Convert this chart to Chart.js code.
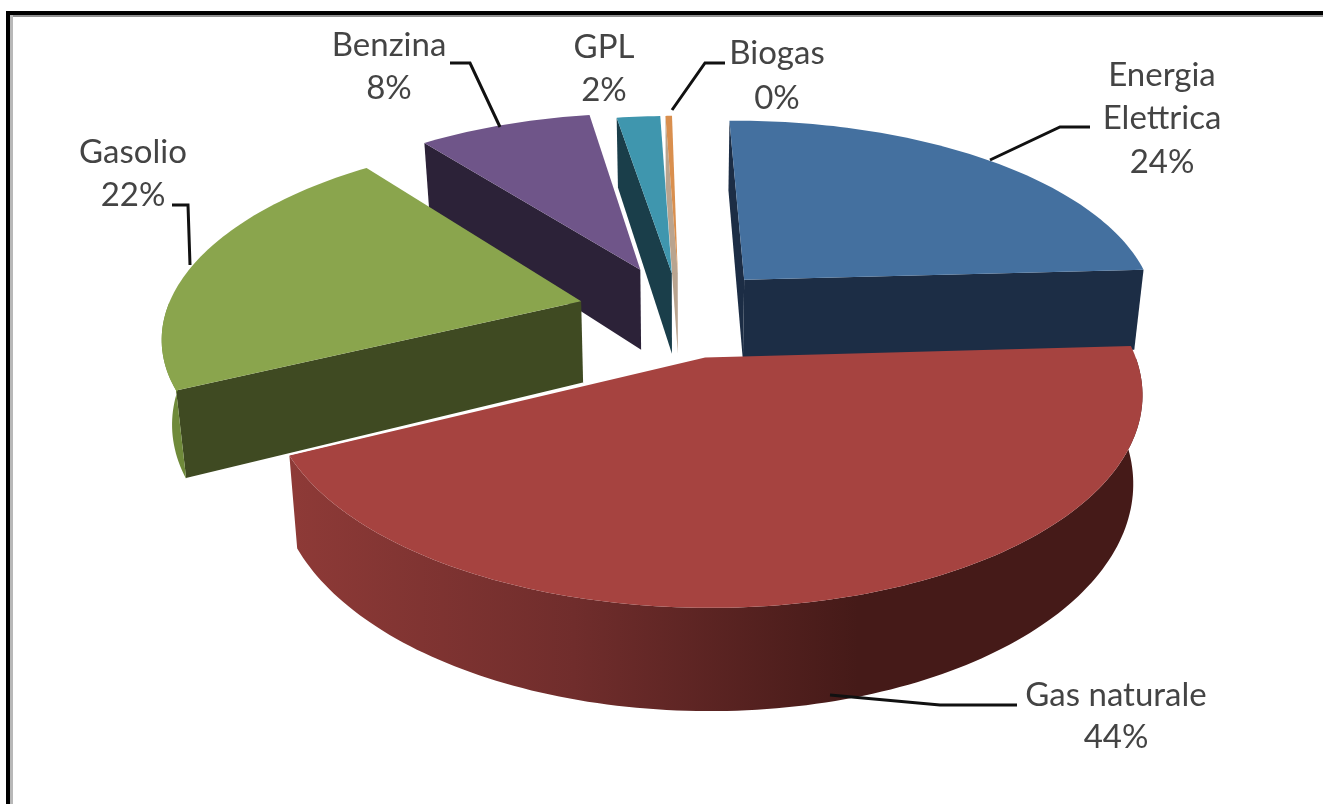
<!DOCTYPE html>
<html lang="it">
<head>
<meta charset="utf-8">
<title>Consumi per fonte</title>
<script src="https://cdn.jsdelivr.net/npm/chart.js@4"></script>
<style>
    html, body { margin: 0; background: #fff; overflow: hidden; }
    #wrap { position: relative; width: 1323px; height: 804px; overflow: hidden; }
    #frame { position: absolute; left: 6px; top: 11px; width: 1500px; height: 1000px;
             border: 4px solid #000; box-shadow: inset 3px 0 0 #b8b8b8, inset 0 2px 0 #909090; }
    canvas { position: absolute; left: 0; top: 0; }
</style>
</head>
<body>
<div id="wrap">
    <div id="frame"></div>
    <canvas id="pie" width="1323" height="804"></canvas>
</div>
<script>
// --- Data ---
const categories = ['Energia Elettrica', 'Gas naturale', 'Gasolio', 'Benzina', 'GPL', 'Biogas'];
const shares = [24.4, 43.7, 21.6, 8.0, 2.0, 0.3];

// --- Styles ---
const explode = [70, 70, 74, 74, 62, 62];
const topColors = ['#44709f', '#a64340', '#8aa54d', '#6f5589', '#3f96ae', '#d98f4e'];
const cutColors = ['#1c2d45', '#451a18', '#3f4a22', '#2c2238', '#1a3e4a', '#b9a48f'];
const wallColors = [
    ['#2c4a70', '#2c4a70'],
    ['#8e3a37', '#702d2c', '#451a18', '#451a18'],
    ['#6f8a3a', '#6f8a3a'],
    ['#2c2238', '#2c2238'],
    ['#1a3e4a', '#1a3e4a'],
    ['#b9a48f', '#b9a48f']
];
const paintOrder = [0, 5, 4, 3, 1, 2];

// label text is split on lines; anchors are [centre x, line y's...]
const labelLines = [['Energia', 'Elettrica'], ['Gas naturale'], ['Gasolio'], ['Benzina'], ['GPL'], ['Biogas']];
const labelAnchors = [
    [1162, 75, 118, 162],
    [1116, 695, 737],
    [133, 152, 195],
    [389, 45, 88],
    [604, 47, 90],
    [777, 53, 98]
];
const leaders = [
    [[1090, 127], [1060, 127], [990, 160]],
    [[1017, 705], [940, 705], [830, 695]],
    [[172, 205], [188, 205], [190, 265]],
    [[450, 63], [470, 63], [500, 127]],
    [],
    [[725, 63], [705, 63], [672, 110]]
];

// --- Perspective view of the pie plane ---
const view = { cx: 680, cy: 312, rx: 415, ry: 194, depth: 83, persp: 0.16, taper: 0.02, offsetUnit: 300 };

function project(u, v, z) {
    const s = 1 / (1 - view.persp * v);
    return {
        x: view.cx + view.rx * u * s * (1 - view.taper * z),
        y: view.cy + view.ry * v * s + view.depth * z * s
    };
}

function tracePath(ctx, pts) {
    ctx.beginPath();
    pts.forEach((p, i) => (i ? ctx.lineTo(p.x, p.y) : ctx.moveTo(p.x, p.y)));
    ctx.closePath();
}

function sliceGeometry(el) {
    const mid = (el.startAngle + el.endAngle) / 2;
    const off = el.options.offset / view.offsetUnit;
    const ou = Math.cos(mid) * off;
    const ov = Math.sin(mid) * off;
    const steps = Math.max(4, Math.ceil((el.endAngle - el.startAngle) / 0.02));
    const rim = [];
    for (let i = 0; i <= steps; i++) {
        const a = el.startAngle + (el.endAngle - el.startAngle) * i / steps;
        rim.push({ u: ou + Math.cos(a), v: ov + Math.sin(a), facing: Math.sin(a) > 0 });
    }
    return { apex: [ou, ov], rim };
}

function drawSlice(ctx, el, i) {
    const { apex, rim } = sliceGeometry(el);
    const topRim = rim.map(p => project(p.u, p.v, 0));
    const lowRim = rim.map(p => project(p.u, p.v, 1));
    const apexTop = project(apex[0], apex[1], 0);
    const apexLow = project(apex[0], apex[1], 1);
    const last = rim.length - 1;

    // cut faces, only those turned towards the viewer
    ctx.fillStyle = cutColors[i];
    if (-Math.cos(el.startAngle) > 0) {
        tracePath(ctx, [apexTop, topRim[0], lowRim[0], apexLow]);
        ctx.fill();
    }
    if (Math.cos(el.endAngle) > 0) {
        tracePath(ctx, [apexTop, topRim[last], lowRim[last], apexLow]);
        ctx.fill();
    }

    // outer wall, front part of the rim only
    const xs = topRim.map(p => p.x);
    const grad = ctx.createLinearGradient(Math.min(...xs), 0, Math.max(...xs), 0);
    wallColors[i].forEach((c, k) => grad.addColorStop(k / (wallColors[i].length - 1), c));
    const front = rim.map((p, k) => (p.facing ? k : -1)).filter(k => k >= 0);
    if (front.length > 1) {
        const upper = front.map(k => topRim[k]);
        const lower = front.map(k => lowRim[k]).reverse();
        tracePath(ctx, upper.concat(lower));
        ctx.fillStyle = grad;
        ctx.fill();
    }

    // top face
    tracePath(ctx, [apexTop].concat(topRim));
    ctx.fillStyle = topColors[i];
    ctx.fill();

    // thin light seam where the slice sits in front of its neighbour
    if (i === 2) {
        ctx.beginPath();
        ctx.moveTo(lowRim[0].x, lowRim[0].y);
        ctx.lineTo(apexLow.x, apexLow.y);
        ctx.strokeStyle = '#ffffff';
        ctx.lineWidth = 2;
        ctx.stroke();
    }
}

const pie3d = {
    id: 'pie3d',
    beforeDatasetDraw(chart, args) {
        const ctx = chart.ctx;
        const arcs = args.meta.data;
        paintOrder.forEach(i => drawSlice(ctx, arcs[i], i));
        return false; // flat arcs are replaced by the extruded ones
    },
    afterDraw(chart) {
        const ctx = chart.ctx;
        const total = shares.reduce((a, b) => a + b, 0);
        ctx.save();
        ctx.strokeStyle = '#111';
        ctx.lineWidth = 3;
        leaders.forEach(pts => {
            if (!pts.length) return;
            ctx.beginPath();
            pts.forEach((p, k) => (k ? ctx.lineTo(p[0], p[1]) : ctx.moveTo(p[0], p[1])));
            ctx.stroke();
        });
        ctx.font = '33px Lato';
        ctx.fillStyle = '#444444';
        ctx.textAlign = 'center';
        ctx.textBaseline = 'middle';
        labelLines.forEach((lines, i) => {
            const anchor = labelAnchors[i];
            const text = lines.concat(Math.round(shares[i] / total * 100) + '%');
            text.forEach((t, k) => ctx.fillText(t, anchor[0], anchor[k + 1]));
        });
        ctx.restore();
    }
};

new Chart(document.getElementById('pie'), {
    type: 'pie',
    data: {
        labels: categories,
        datasets: [{ data: shares, backgroundColor: topColors, offset: explode, borderWidth: 0 }]
    },
    options: {
        responsive: false,
        animation: false,
        rotation: -1,
        plugins: { legend: { display: false }, tooltip: { enabled: false } }
    },
    plugins: [pie3d]
});
</script>
</body>
</html>
